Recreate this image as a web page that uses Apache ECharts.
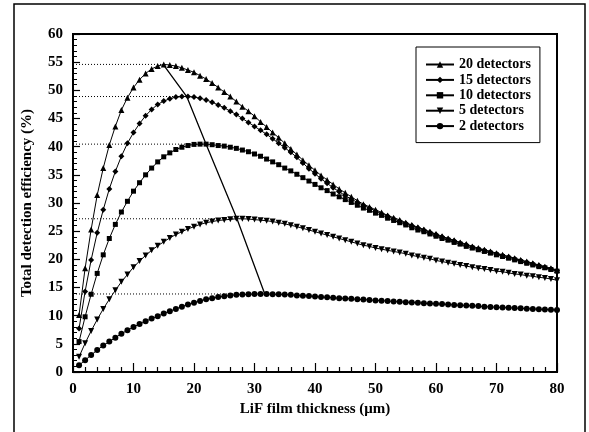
<!DOCTYPE html>
<html>
<head>
<meta charset="utf-8">
<script src="https://cdn.jsdelivr.net/npm/echarts@6/dist/echarts.min.js"></script>
<style>
  html, body { margin: 0; padding: 0; background: #fff; }
  #main { width: 589px; height: 432px; }
</style>
</head>
<body>
<div id="main"></div>
<script>
// thickness in um, one point per micron
var thickness = [];
for (var i = 1; i <= 80; i++) thickness.push(i);

var det20 = [10.1, 18.4, 25.3, 31.4, 36.2, 40.3, 43.6, 46.5, 48.7, 50.5,
             51.9, 53.0, 53.8, 54.3, 54.6, 54.5, 54.3, 54.0, 53.6, 53.2,
             52.6, 52.0, 51.3, 50.5, 49.7, 48.9, 48.0, 47.1, 46.3, 45.4,
             44.4, 43.5, 42.5, 41.6, 40.6, 39.6, 38.6, 37.6, 36.7, 35.8,
             34.9, 34.1, 33.3, 32.5, 31.8, 31.1, 30.4, 29.8, 29.3, 28.8,
             28.3, 27.8, 27.4, 27.0, 26.5, 26.1, 25.7, 25.3, 24.9, 24.5,
             24.1, 23.7, 23.4, 23.0, 22.7, 22.3, 22.0, 21.7, 21.4, 21.1,
             20.8, 20.5, 20.2, 19.9, 19.6, 19.3, 19.0, 18.7, 18.4, 18.1];
var det15 = [7.7, 14.3, 19.9, 24.7, 28.8, 32.5, 35.6, 38.3, 40.6, 42.5,
             44.1, 45.5, 46.6, 47.5, 48.1, 48.5, 48.8, 48.9, 48.9, 48.8,
             48.6, 48.3, 47.9, 47.4, 46.9, 46.3, 45.7, 45.0, 44.3, 43.6,
             42.9, 42.2, 41.4, 40.6, 39.8, 39.0, 38.1, 37.1, 36.1, 35.2,
             34.3, 33.5, 32.7, 32.0, 31.3, 30.7, 30.1, 29.6, 29.1, 28.6,
             28.1, 27.7, 27.2, 26.8, 26.4, 26.0, 25.6, 25.2, 24.8, 24.4,
             24.0, 23.6, 23.3, 22.9, 22.6, 22.2, 21.9, 21.6, 21.3, 21.0,
             20.7, 20.4, 20.1, 19.8, 19.5, 19.2, 18.9, 18.6, 18.3, 18.0];
var det10 = [5.4, 9.8, 13.8, 17.5, 20.8, 23.7, 26.2, 28.4, 30.3, 32.1,
             33.6, 35.0, 36.2, 37.3, 38.2, 38.9, 39.5, 39.9, 40.2, 40.4,
             40.45, 40.45, 40.35, 40.2, 40.1, 39.9, 39.7, 39.4, 39.1, 38.7,
             38.3, 37.8, 37.3, 36.8, 36.2, 35.7, 35.1, 34.5, 33.9, 33.3,
             32.7, 32.2, 31.6, 31.1, 30.6, 30.1, 29.6, 29.1, 28.7, 28.2,
             27.8, 27.3, 26.9, 26.5, 26.1, 25.6, 25.2, 24.9, 24.5, 24.1,
             23.7, 23.4, 23.0, 22.7, 22.3, 22.0, 21.7, 21.4, 21.1, 20.8,
             20.5, 20.2, 19.9, 19.6, 19.3, 19.0, 18.7, 18.5, 18.2, 17.9];
var det5 = [2.7, 5.1, 7.3, 9.3, 11.2, 12.9, 14.5, 16.0, 17.3, 18.6,
            19.7, 20.7, 21.6, 22.4, 23.1, 23.8, 24.4, 24.9, 25.4, 25.8,
            26.2, 26.5, 26.7, 26.9, 27.0, 27.1, 27.2, 27.2, 27.15, 27.05,
            26.95, 26.85, 26.7, 26.5, 26.3, 26.05, 25.8, 25.5, 25.2, 24.9,
            24.6, 24.3, 24.0, 23.7, 23.4, 23.1, 22.8, 22.5, 22.3, 22.0,
            21.8, 21.6, 21.4, 21.2, 21.0, 20.7, 20.5, 20.3, 20.1, 19.8,
            19.6, 19.4, 19.2, 19.0, 18.8, 18.6, 18.4, 18.3, 18.1, 17.9,
            17.8, 17.6, 17.4, 17.3, 17.1, 17.0, 16.8, 16.7, 16.5, 16.3];
var det2 = [1.2, 2.1, 3.0, 3.9, 4.7, 5.4, 6.1, 6.8, 7.4, 8.0,
            8.5, 9.0, 9.5, 9.9, 10.4, 10.8, 11.2, 11.6, 12.0, 12.3,
            12.6, 12.9, 13.1, 13.3, 13.45, 13.6, 13.7, 13.75, 13.8, 13.85,
            13.85, 13.85, 13.8, 13.8, 13.75, 13.7, 13.6, 13.55, 13.5, 13.4,
            13.3, 13.25, 13.2, 13.1, 13.05, 13.0, 12.9, 12.85, 12.8, 12.7,
            12.65, 12.6, 12.5, 12.45, 12.4, 12.35, 12.3, 12.2, 12.15, 12.1,
            12.05, 12.0, 11.9, 11.85, 11.8, 11.75, 11.7, 11.6, 11.55, 11.5,
            11.45, 11.4, 11.35, 11.3, 11.25, 11.2, 11.15, 11.1, 11.05, 11.0];

// maxima of each curve (joined by the solid line, marked by dotted guides)
var peakX = [14.9, 18.8, 22.0, 27.1, 31.7];
var peakY = [54.6, 48.9, 40.45, 27.2, 13.85];

var names = ['20 detectors', '15 detectors', '10 detectors', '5 detectors', '2 detectors'];
var symbols = ['triangle', 'diamond', 'rect', 'triangle', 'circle'];
var rotates = [0, 0, 0, 180, 0];
var sizes = [6, 6, 5, 6, 6];
var values = [det20, det15, det10, det5, det2];

function pairs(ys) {
    return thickness.map(function (x, k) { return [x, ys[k]]; });
}

var font = 'Liberation Serif';
var series = [];

// dotted guides from the y axis to each maximum
var guides = [];
peakY.forEach(function (y, k) {
    guides.push([0, y], [peakX[k], y], '-');
});
series.push({
    name: 'guides',
    type: 'line',
    data: guides,
    symbol: 'none',
    silent: true,
    lineStyle: { color: '#000', width: 1, type: [1, 2] },
    z: 1
});

// line through the maxima
series.push({
    name: 'peaks',
    type: 'line',
    data: peakX.map(function (x, k) { return [x, peakY[k]]; }),
    symbol: 'none',
    silent: true,
    lineStyle: { color: '#000', width: 1.3 },
    z: 2
});

values.forEach(function (ys, k) {
    series.push({
        name: names[k],
        type: 'line',
        data: pairs(ys),
        symbol: symbols[k],
        symbolSize: sizes[k],
        symbolRotate: rotates[k],
        showAllSymbol: true,
        itemStyle: { color: '#000' },
        lineStyle: { color: '#000', width: 1 },
        z: 3
    });
});

var myChart = echarts.init(document.getElementById('main'));
var option = {
    backgroundColor: '#fff',
    animation: false,
    legend: {
        data: names,
        orient: 'vertical',
        left: 416,
        top: 47,
        padding: [10, 9, 9, 9],
        itemWidth: 28,
        itemHeight: 8,
        itemGap: 0.4,
        borderColor: '#000',
        borderWidth: 1,
        textStyle: { fontFamily: font, fontWeight: 'bold', fontSize: 14, lineHeight: 15, color: '#000' }
    },
    graphic: [{
        type: 'rect',
        shape: { x: 14, y: 4, width: 571, height: 440 },
        style: { fill: null, stroke: '#000', lineWidth: 1.5 },
        silent: true
    }],
    grid: {
        left: 73,
        right: 32,
        top: 34,
        bottom: 60,
        show: true,
        borderColor: '#000',
        borderWidth: 2
    },
    xAxis: {
        type: 'value',
        min: 0,
        max: 80,
        interval: 10,
        name: 'LiF film thickness (\u03bcm)',
        nameLocation: 'middle',
        nameGap: 30,
        nameTextStyle: { fontFamily: font, fontWeight: 'bold', fontSize: 15, color: '#000' },
        axisLine: { lineStyle: { color: '#000', width: 2 } },
        axisTick: { inside: true, length: 9, lineStyle: { color: '#000', width: 1.2 } },
        minorTick: { show: true, splitNumber: 5, length: 5, lineStyle: { color: '#000', width: 1.2 } },
        axisLabel: { fontFamily: font, fontWeight: 'bold', fontSize: 15, color: '#000', margin: 10 },
        splitLine: { show: false }
    },
    yAxis: {
        type: 'value',
        min: 0,
        max: 60,
        interval: 5,
        name: 'Total detection efficiency (%)',
        nameLocation: 'middle',
        nameGap: 38,
        nameTextStyle: { fontFamily: font, fontWeight: 'bold', fontSize: 15, color: '#000' },
        axisLine: { lineStyle: { color: '#000', width: 2 } },
        axisTick: { inside: true, length: 7, lineStyle: { color: '#000', width: 1.2 } },
        minorTick: { show: true, splitNumber: 5, length: 4, lineStyle: { color: '#000', width: 1 } },
        axisLabel: { fontFamily: font, fontWeight: 'bold', fontSize: 15, color: '#000', margin: 10 },
        splitLine: { show: false }
    },
    series: series
};
myChart.setOption(option);
</script>
</body>
</html>
